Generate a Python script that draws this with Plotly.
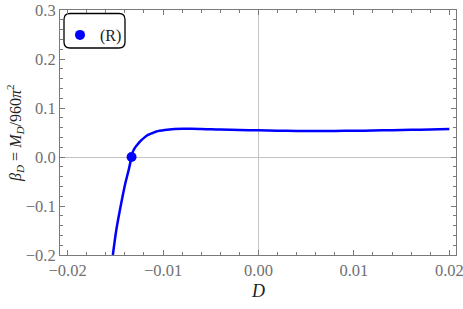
import plotly.graph_objects as go

# curve data
D_vals = [-0.01526, -0.01490, -0.01438, -0.01396, -0.01361, -0.01330, -0.01316, -0.01297,
          -0.01270, -0.01245, -0.01200, -0.01158, -0.01110, -0.01070, -0.00983, -0.00880,
          -0.00790, -0.00700, -0.00600, -0.00500, -0.00400, -0.00200, 0.00000, 0.00200,
          0.00400, 0.00600, 0.00800, 0.01000, 0.01200, 0.01400, 0.01600, 0.01800, 0.02000]
beta_vals = [-0.200, -0.149, -0.094, -0.054, -0.027, 0.000, 0.011, 0.018,
             0.025, 0.031, 0.039, 0.045, 0.049, 0.052, 0.055, 0.057,
             0.0575, 0.0575, 0.057, 0.0565, 0.056, 0.055, 0.0545, 0.0537,
             0.0532, 0.0531, 0.0532, 0.0535, 0.054, 0.0548, 0.0555, 0.0562, 0.057]

# marked root point
root_D = [-0.0133]
root_beta = [0.0]

x_ticks = [-0.02, -0.01, 0.0, 0.01, 0.02]
x_ticklabels = ["\u22120.02", "\u22120.01", "0.00", "0.01", "0.02"]
y_ticks = [-0.2, -0.1, 0.0, 0.1, 0.2, 0.3]
y_ticklabels = ["\u22120.2", "\u22120.1", "0.0", "0.1", "0.2", "0.3"]

x_title = "<i>D</i>"
y_title = "<i>β</i><sub><i>D</i></sub> = <i>M</i><sub><i>D</i></sub>/960<i>π</i><sup>2</sup>"

BLUE = "rgb(0,0,255)"
AXIS = "#7a7a7a"
FONT = "Liberation Serif"

fig = go.Figure()
fig.add_trace(go.Scatter(x=D_vals, y=beta_vals, mode="lines",
                         line=dict(color=BLUE, width=2.5, shape="spline", smoothing=0.8),
                         showlegend=False, hoverinfo="skip"))
fig.add_trace(go.Scatter(x=root_D, y=root_beta, mode="markers", marker=dict(color=BLUE, size=10),
                         name="(R)", showlegend=True))

axis_common = dict(showline=True, linecolor=AXIS, linewidth=1, mirror="allticks",
                   ticks="inside", ticklen=5, tickcolor=AXIS, tickwidth=1, automargin=False,
                   ticklabeloverflow="allow",
                   showgrid=False, zeroline=True, zerolinecolor="#c4c4c4", zerolinewidth=1,
                   tickfont=dict(family=FONT, size=16.5, color="#707070"))

fig.update_xaxes(range=[-0.0208, 0.0207], tickvals=x_ticks, ticktext=x_ticklabels,
                 minor=dict(dtick=0.002, tick0=0, ticks="inside", ticklen=3, tickcolor=AXIS),
                 **axis_common)
fig.update_yaxes(range=[-0.2, 0.3], tickvals=y_ticks, ticktext=y_ticklabels,
                 minor=dict(dtick=0.02, tick0=0, ticks="inside", ticklen=3, tickcolor=AXIS),
                 **axis_common)

fig.add_annotation(text=x_title, xref="paper", yref="paper", x=0.5, y=-0.145,
                   xanchor="center", yanchor="middle", showarrow=False,
                   font=dict(family=FONT, size=18, color="#222"))
fig.add_annotation(text=y_title, xref="paper", yref="paper", x=-0.115, y=0.5, textangle=-90,
                   xanchor="center", yanchor="middle", showarrow=False,
                   font=dict(family=FONT, size=16, color="#222"))

# rounded legend frame
r = 6
x0, x1, y0, y1 = 4, 65, -3.5, -38
path = (f"M {x0+r},{y0} L {x1-r},{y0} Q {x1},{y0} {x1},{y0-r} L {x1},{y1+r} Q {x1},{y1} {x1-r},{y1} "
        f"L {x0+r},{y1} Q {x0},{y1} {x0},{y1+r} L {x0},{y0-r} Q {x0},{y0} {x0+r},{y0} Z")
fig.add_shape(type="path", path=path, xref="paper", yref="paper", xsizemode="pixel", ysizemode="pixel",
              xanchor=0, yanchor=1, line=dict(color="black", width=1.3), fillcolor="white", layer="below")

fig.update_layout(
    width=463, height=309,
    margin=dict(l=60, r=7, t=10, b=54),
    plot_bgcolor="white", paper_bgcolor="white",
    legend=dict(x=0.0, y=0.898, xanchor="left", yanchor="middle", bgcolor="rgba(0,0,0,0)",
                font=dict(family=FONT, size=16, color="#222"), itemwidth=30),
)

fig.write_html("out.html", config={"displayModeBar": False},
               post_script="document.body.style.margin='0px';")
